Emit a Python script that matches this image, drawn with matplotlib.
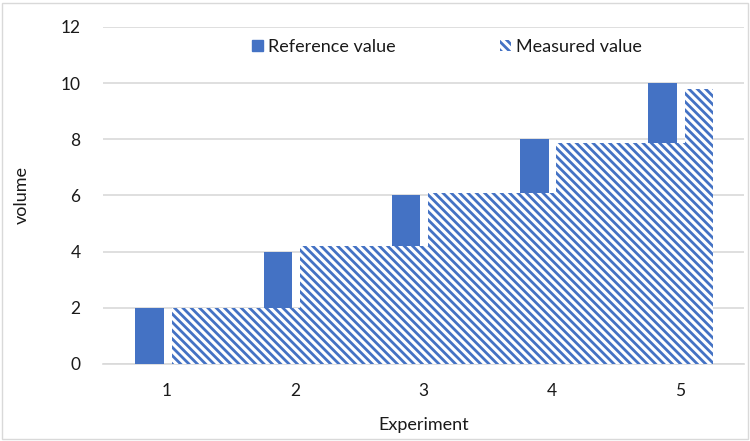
import matplotlib.pyplot as plt
from matplotlib.patches import Rectangle, Patch
import numpy as np

plt.rcParams['font.family'] = ['Lato', 'DejaVu Sans']
plt.rcParams['hatch.linewidth'] = 2.0
plt.rcParams['hatch.color'] = '#4472C4'

# data
experiments = [1, 2, 3, 4, 5]
reference = [2, 4, 6, 8, 10]
measured = [2.0, 4.19, 6.1, 7.86, 9.79]

blue = '#4472C4'
grid = '#D9D9D9'
txt = '#1a1a1a'

fig = plt.figure(figsize=(7.5, 4.41), dpi=100)
ax = fig.add_axes([0.137, 0.175, 0.855, 0.764])

x = np.array(experiments, dtype=float)
bar_w = 0.222
right_end = x[-1] + 0.26

# reference bars sit left of the category centre
ax.bar(x - 0.023, reference, width=-bar_w, align='edge', color=blue, zorder=3)

# measured bars start right of centre and run to the end of the last bar
lefts = x + 0.037
for l, v in zip(lefts, measured):
    ax.bar(l, v, width=right_end - l, align='edge', facecolor='white',
           edgecolor=blue, linewidth=0, hatch='\\\\\\\\', zorder=3)

ax.set_xlim(0.5, 5.5)
ax.set_ylim(0, 12)
ax.set_yticks(range(0, 13, 2))
ax.set_xticks(experiments)
ax.tick_params(axis='both', length=0, labelsize=12.5, colors=txt)
ax.tick_params(axis='y', pad=16)
ax.tick_params(axis='x', pad=14)
ax.yaxis.grid(True, color=grid, linewidth=1.2, zorder=0)
ax.set_axisbelow(True)
for s in ['top', 'right', 'left']:
    ax.spines[s].set_visible(False)
ax.spines['bottom'].set_color(grid)
ax.spines['bottom'].set_linewidth(1.2)

ax.set_xlabel('Experiment', fontsize=13, color=txt, labelpad=13)
ax.set_ylabel('volume', fontsize=13, color=txt, labelpad=22)

handles = [Patch(facecolor=blue, edgecolor=blue),
           Patch(facecolor='white', edgecolor=blue, linewidth=0, hatch='\\\\\\\\')]
ax.legend(handles, ['Reference value', 'Measured value'], ncol=2, frameon=False,
          loc='center', bbox_to_anchor=(0.537, 0.94), fontsize=13,
          handlelength=0.6, handleheight=0.6, handletextpad=0.3,
          columnspacing=5.75, labelcolor=txt)

fig.patches.append(Rectangle((0.003, 0.004), 0.994, 0.99, transform=fig.transFigure,
                             fill=False, edgecolor='#D9D9D9', linewidth=1))

fig.savefig('out.png', dpi=100)
